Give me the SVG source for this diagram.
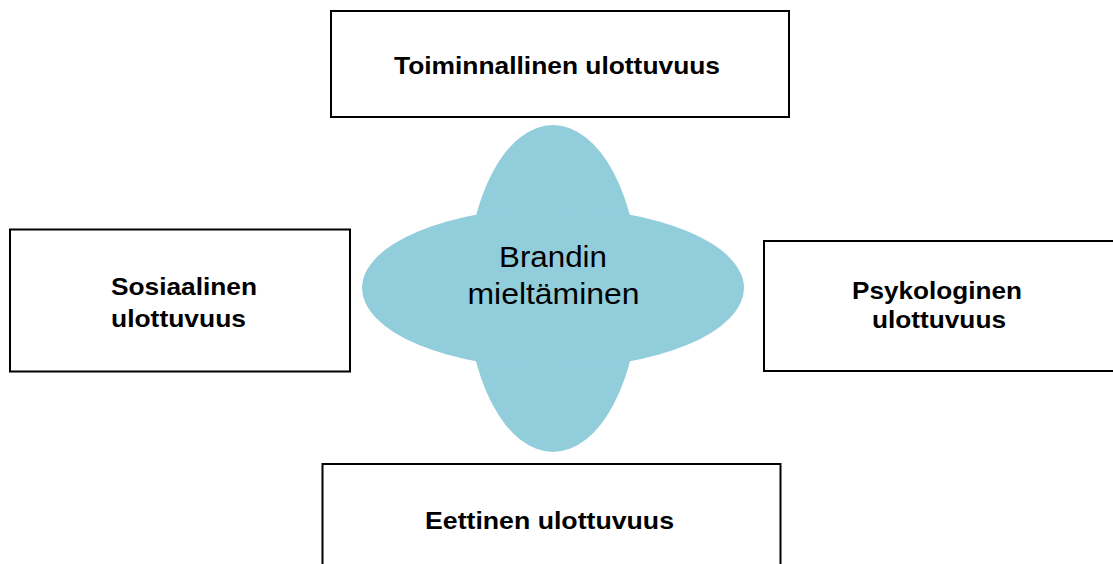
<svg xmlns="http://www.w3.org/2000/svg" width="1113" height="564" viewBox="0 0 1113 564">
  <style>
    .box { fill: #ffffff; stroke: #000000; stroke-width: 2; }
    .lbl { font-family: "Liberation Sans", Arial, sans-serif; font-weight: bold; font-size: 24.5px; fill: #000000; }
    .ctr { font-family: "Liberation Sans", Arial, sans-serif; font-size: 29px; fill: #000000; text-anchor: middle; }
    .blob { fill: #92CDDC; stroke: none; }
  </style>
  <rect width="1113" height="564" fill="#ffffff"/>
  <g id="connectors"></g>
  <g id="node-center">
    <ellipse class="blob" cx="553" cy="288.5" rx="86" ry="163.5"/>
    <ellipse class="blob" cx="553" cy="288" rx="191" ry="80"/>
    <text class="ctr" x="553" y="267" textLength="108" lengthAdjust="spacingAndGlyphs">Brandin</text>
    <text class="ctr" x="553.5" y="304" textLength="172" lengthAdjust="spacingAndGlyphs">mieltäminen</text>
  </g>
  <g id="node-top">
    <rect class="box" x="331" y="11" width="458" height="106"/>
    <text class="lbl" x="394" y="74" textLength="326" lengthAdjust="spacingAndGlyphs">Toiminnallinen ulottuvuus</text>
  </g>
  <g id="node-left">
    <rect class="box" x="10" y="229.5" width="340" height="142"/>
    <text class="lbl" x="111" y="295" textLength="146" lengthAdjust="spacingAndGlyphs">Sosiaalinen</text>
    <text class="lbl" x="111" y="327" textLength="135" lengthAdjust="spacingAndGlyphs">ulottuvuus</text>
  </g>
  <g id="node-right">
    <rect class="box" x="764" y="241" width="360" height="130"/>
    <text class="lbl" x="852" y="299" textLength="170" lengthAdjust="spacingAndGlyphs">Psykologinen</text>
    <text class="lbl" x="872" y="328" textLength="134" lengthAdjust="spacingAndGlyphs">ulottuvuus</text>
  </g>
  <g id="node-bottom">
    <rect class="box" x="322.5" y="464" width="458" height="110"/>
    <text class="lbl" x="425" y="529" textLength="249" lengthAdjust="spacingAndGlyphs">Eettinen ulottuvuus</text>
  </g>
</svg>
